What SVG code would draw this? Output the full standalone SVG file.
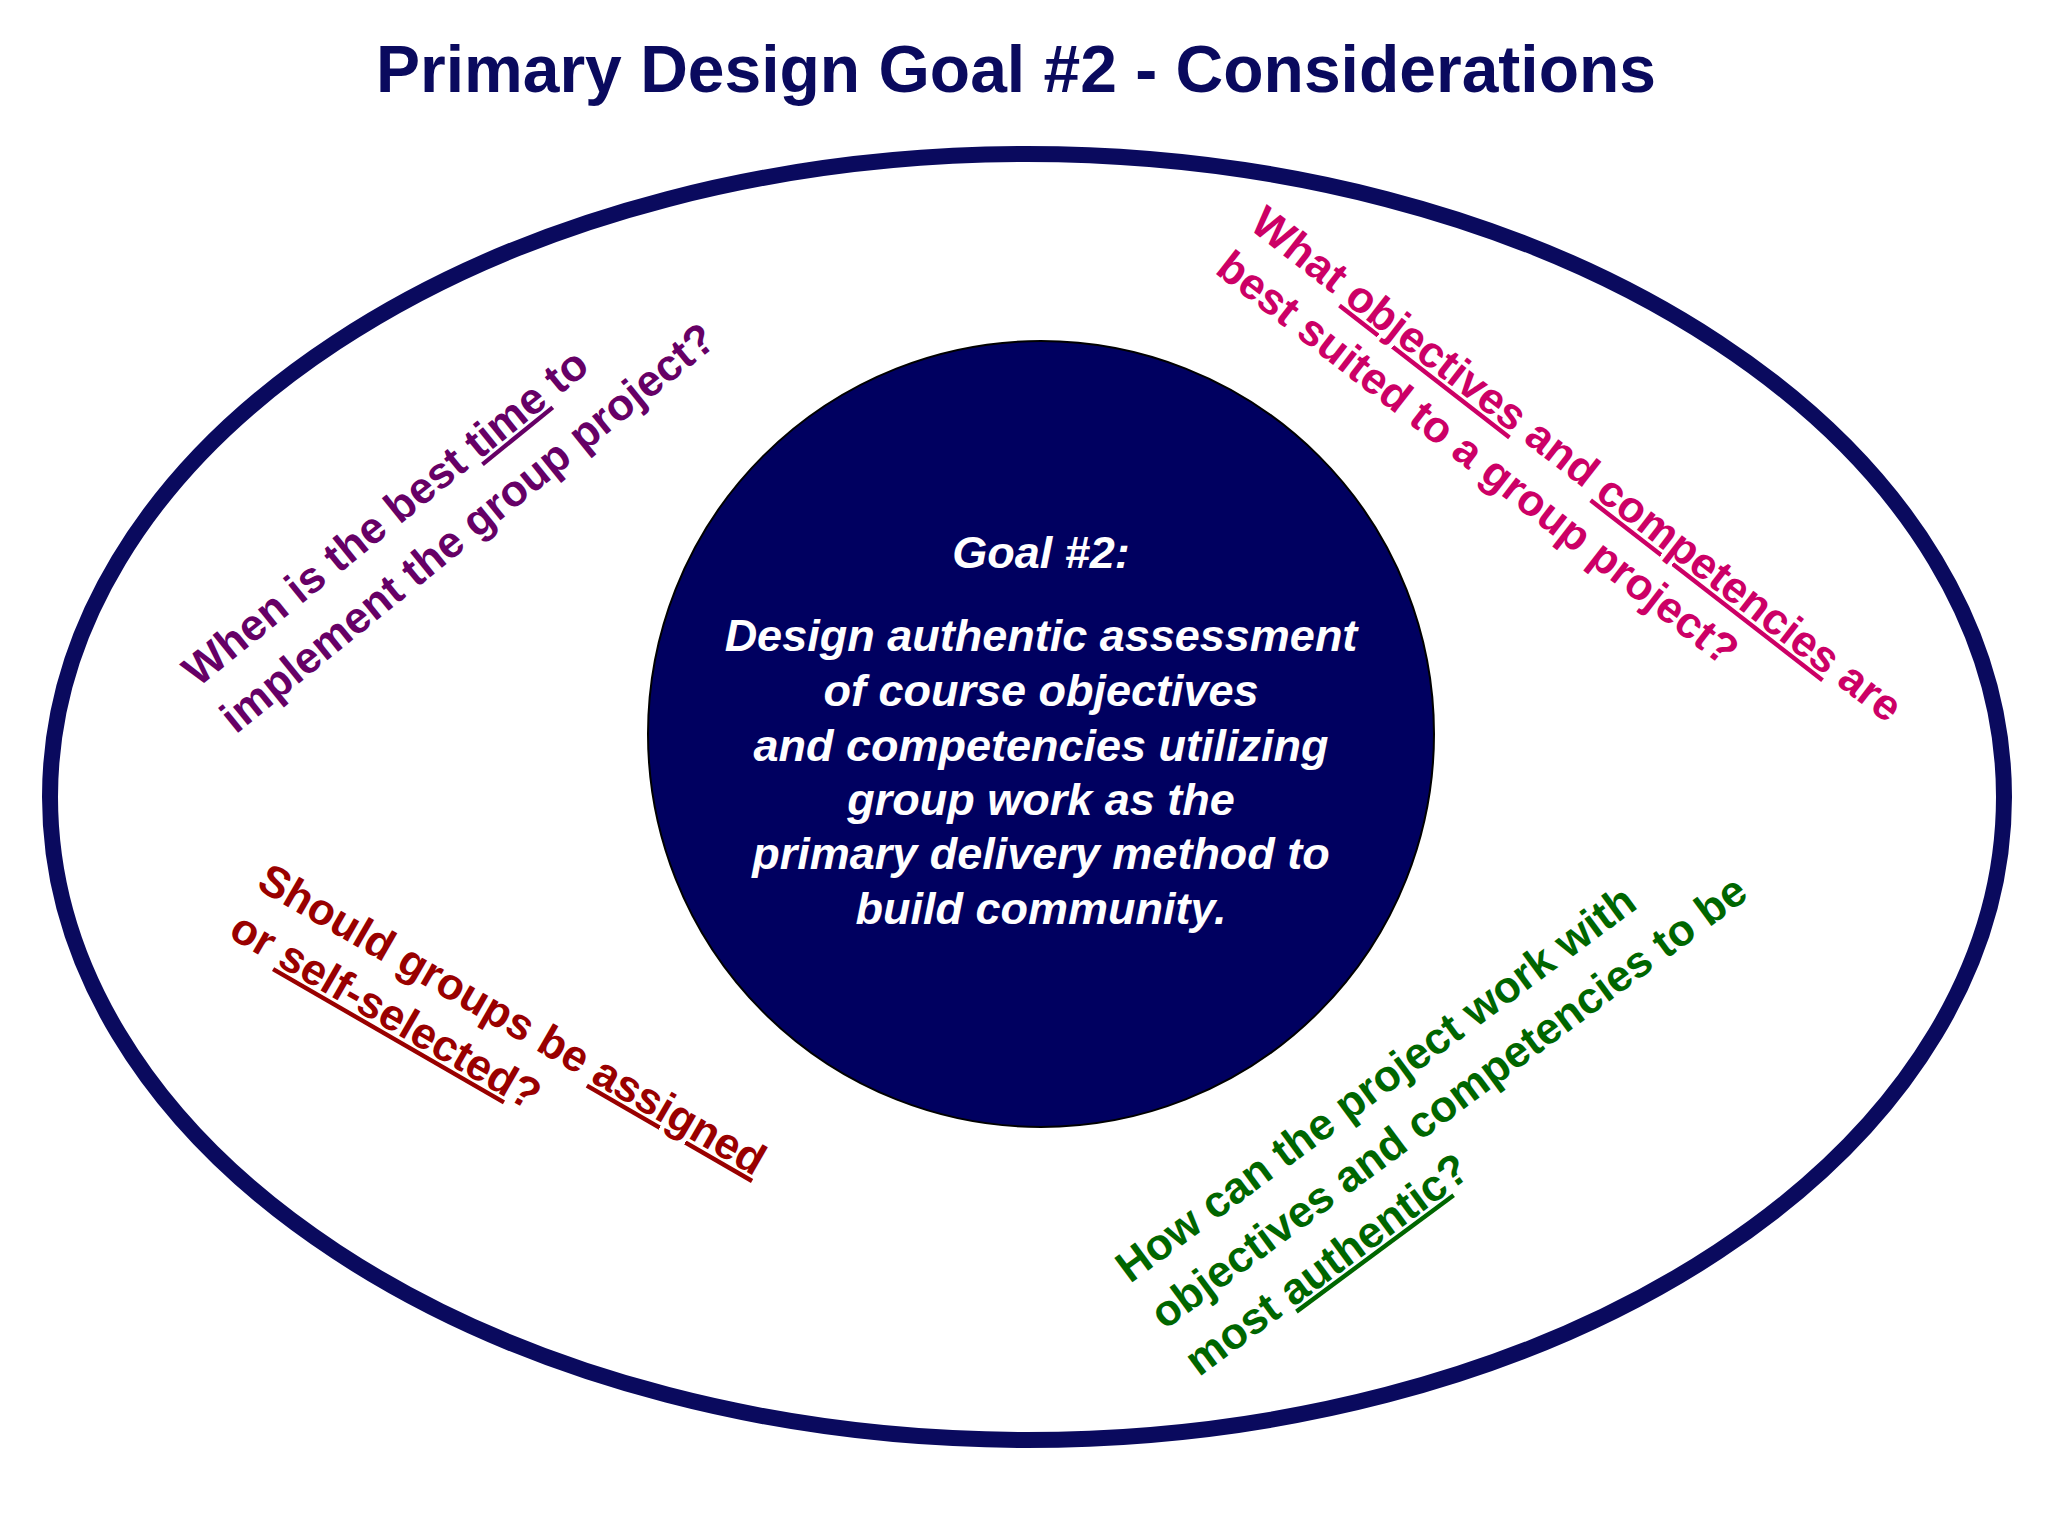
<svg xmlns="http://www.w3.org/2000/svg" width="2048" height="1536" viewBox="0 0 2048 1536">
<style>
.q{font-family:"Liberation Sans",Arial,sans-serif;font-weight:bold;font-size:44px}
.u{text-decoration:underline}
.c{font-family:"Liberation Sans",Arial,sans-serif;font-weight:bold;font-style:italic;font-size:45px;fill:#fff;text-anchor:middle}
</style>
<rect width="2048" height="1536" fill="#fff"/>
<text x="1016" y="92" text-anchor="middle" font-family="Liberation Sans, Arial, sans-serif" font-weight="bold" font-size="66" fill="#0a0a5e">Primary Design Goal #2 - Considerations</text>
<g id="outer"><ellipse cx="1027" cy="797" rx="977" ry="643" fill="#fff" stroke="#0a0a5e" stroke-width="16"/></g>
<g id="goal">
<circle cx="1041" cy="734" r="393" fill="#000060" stroke="#000" stroke-width="2"/>
<text class="c" x="1041" y="568">Goal #2:</text>
<text class="c" x="1041" y="651">Design authentic assessment</text>
<text class="c" x="1041" y="706">of course objectives</text>
<text class="c" x="1041" y="761">and competencies utilizing</text>
<text class="c" x="1041" y="815">group work as the</text>
<text class="c" x="1041" y="869">primary delivery method to</text>
<text class="c" x="1041" y="924">build community.</text>
</g>
<g id="q-time" transform="translate(198,688) rotate(-39)" class="q" fill="#660066">
<text x="0" y="0">When is the best <tspan class="u">time</tspan> to</text>
<text x="0" y="60">implement the group project?</text>
</g>
<g id="q-objectives" transform="translate(1248,228) rotate(37.8)" class="q" fill="#cc0066">
<text x="0" y="0">What <tspan class="u">objectives</tspan> and <tspan class="u">competencies</tspan> are</text>
<text x="0" y="56">best suited to a group project?</text>
</g>
<g id="q-groups" transform="translate(255,888) rotate(30)" class="q" fill="#990000">
<text x="0" y="0">Should groups be <tspan class="u">assigned</tspan></text>
<text x="0" y="56">or <tspan class="u">self-selected</tspan>?</text>
</g>
<g id="q-authentic" transform="translate(1130,1284) rotate(-36.5)" class="q" fill="#006600">
<text x="0" y="0">How can the project work with</text>
<text x="0" y="58">objectives and competencies to be</text>
<text x="0" y="116">most <tspan class="u">authentic</tspan>?</text>
</g>
<g id="connectors"/>
</svg>
